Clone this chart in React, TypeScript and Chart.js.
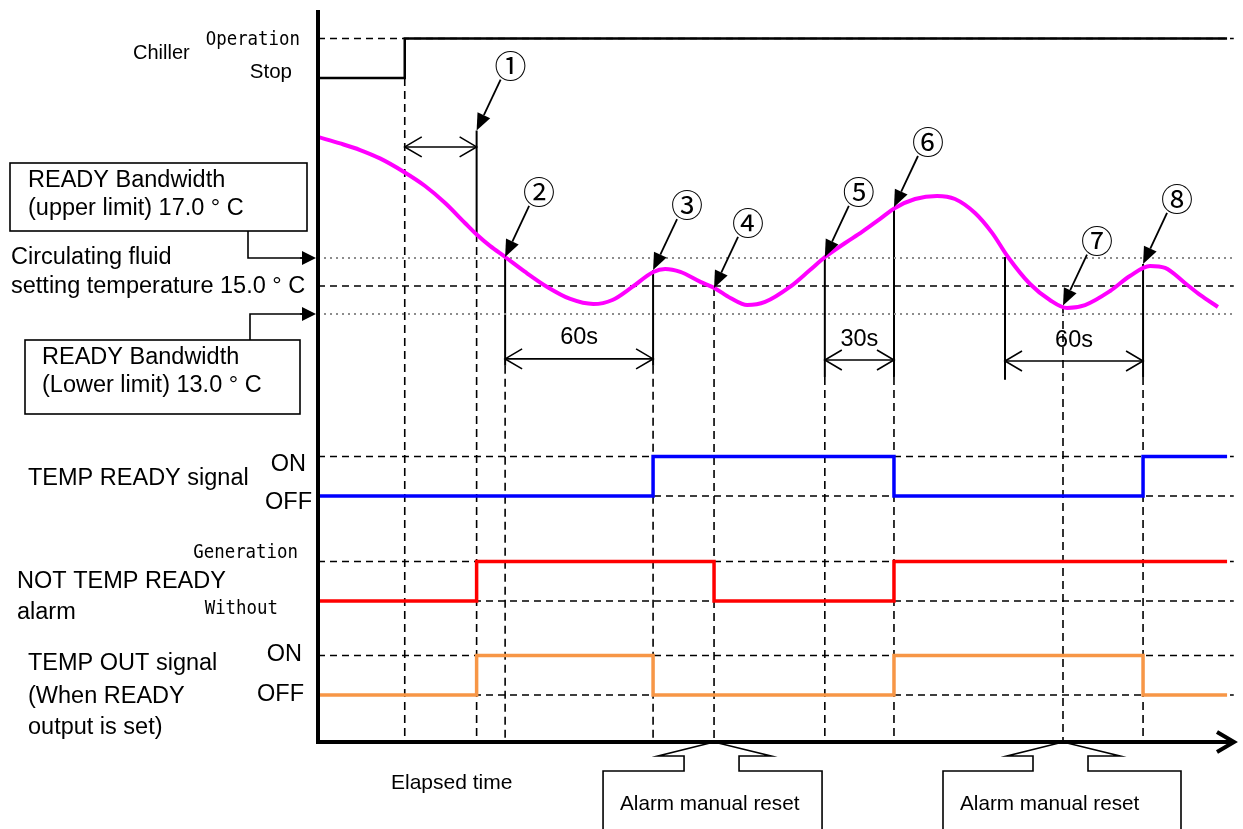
import React, { useEffect, useRef } from "react";
import { Chart, registerables } from "chart.js";

Chart.register(...registerables);

const CANVAS_W = 1243;
const CANVAS_H = 829;

// ---- time axis (schematic seconds) ----
const TIME_MIN = 0;
const TIME_MAX = 370;
const TRACE_END = 366.8;
const GUIDE_END = 369.5;

// ---- circulating fluid temperature (°C) ----
const curveTimes = [0, 8.9, 17.0, 25.0, 34.7, 43.2, 51.3, 59.3, 63.8, 69.4, 75.5, 83.6, 92.5, 101.8, 111.1, 118.8, 126.8, 135.3, 140.1, 146.2, 154.3, 159.9, 166.4, 173.2, 180.4, 190.4, 198.5, 204.6, 212.7, 219.5, 226.8, 232.8, 240.9, 249.8, 257.0, 265.1, 272.0, 278.4, 287.3, 295.3, 302.2, 309.5, 319.6, 327.6, 335.7, 341.8, 349.8, 355.9, 363.1];
const curveTemps = [25.64, 25.18, 24.71, 24.11, 23.14, 22.14, 20.93, 19.5, 18.71, 17.86, 17.07, 16.0, 14.93, 14.07, 13.71, 14.0, 14.93, 16.0, 16.21, 16.0, 15.29, 14.86, 14.14, 13.64, 13.86, 14.93, 16.14, 17.07, 18.07, 18.86, 19.79, 20.57, 21.21, 21.43, 21.21, 20.21, 18.79, 17.07, 15.14, 14.0, 13.43, 13.64, 14.64, 15.71, 16.43, 16.29, 15.21, 14.36, 13.5];
const SET_TEMP = 15.0;
const UPPER_LIMIT = 17.0;
const LOWER_LIMIT = 13.0;
const TEMP_AXIS_MIN = -17.57;
const TEMP_AXIS_MAX = 34.71;

// ---- digital signals (state 0/1, value holds from its time on) ----
const SIG_AXIS_MAX = 18.53;
const CHILLER_BASE = 16.81;
const READY_BASE = 6.23;
const ALARM_BASE = 3.57;
const OUT_BASE = 1.19;

const chillerTimes = [0, 35, TRACE_END];
const chillerStates = [0, 1, 1];
const readyTimes = [0, 135.2, 232.4, 332.9, TRACE_END];
const readyStates = [0, 1, 0, 1, 1];
const alarmTimes = [0, 64, 159.8, 232.4, TRACE_END];
const alarmStates = [0, 1, 0, 1, 1];
const outTimes = [0, 64, 135.2, 232.4, 332.9, TRACE_END];
const outStates = [0, 1, 0, 1, 0, 0];

// ---- event markers ①..⑧ ----
const markerLabels = ["①", "②", "③", "④", "⑤", "⑥", "⑦", "⑧"];
const markerTimes = [64, 75.5, 135.2, 159.8, 204.5, 232.4, 300.6, 332.9];
const markerTemps = [26.1, 17.07, 16.14, 14.86, 17.07, 20.64, 13.6, 16.57];

// ---- vertical guide lines ----
const guideTimes = [35, 64, 75.5, 135.2, 159.8, 204.5, 232.4, 277.2, 300.6, 332.9];
const guideTops = [null, 26.1, 17.07, 16.14, 14.86, 17.07, 20.64, 17.07, 13.43, 16.57];
const guideSolidEnds = [null, 18.71, 9.3, 9.3, null, 8.5, 8.5, 8.3, null, 8.5];
const guideDashed = [true, true, true, true, true, true, true, false, true, true];

// ---- interval dimensions ----
const spanFrom = [35, 75.5, 204.5, 277.2];
const spanTo = [64, 135.2, 232.4, 332.9];
const spanTexts = ["", "60s", "30s", "60s"];
const spanTemps = [24.93, 9.79, 9.71, 9.64];

// ---- alarm manual reset callouts ----
const resetTimes = [159.8, 300.6];
const resetTexts = ["Alarm manual reset", "Alarm manual reset"];

const SANS = '"Liberation Sans", Arial, sans-serif';
const MONO = '"DejaVu Sans Mono", monospace';
const CIRC = '"Noto Sans CJK JP", "DejaVu Sans", sans-serif';

function stepDataset(label: string, times: number[], states: number[], base: number, color: string, width: number) {
  return {
    label,
    data: times.map((t, i) => ({ x: t, y: base + states[i] })),
    yAxisID: "sig",
    borderColor: color,
    borderWidth: width,
    stepped: "before" as const,
    pointRadius: 0,
    fill: false,
    borderJoinStyle: "miter" as const,
  };
}

function line(ctx: CanvasRenderingContext2D, x1: number, y1: number, x2: number, y2: number) {
  ctx.beginPath();
  ctx.moveTo(x1, y1);
  ctx.lineTo(x2, y2);
  ctx.stroke();
}

function poly(ctx: CanvasRenderingContext2D, pts: number[][]) {
  ctx.beginPath();
  ctx.moveTo(pts[0][0], pts[0][1]);
  for (let i = 1; i < pts.length; i++) ctx.lineTo(pts[i][0], pts[i][1]);
  ctx.stroke();
}

function txt(ctx: CanvasRenderingContext2D, s: string, x: number, y: number, size: number, align: CanvasTextAlign = "left", family = SANS, sx = 1) {
  ctx.save();
  ctx.font = `${size}px ${family}`;
  ctx.textAlign = align;
  ctx.textBaseline = "middle";
  ctx.fillStyle = "#000";
  ctx.translate(x, y);
  ctx.scale(sx, 1);
  ctx.fillText(s, 0, 0);
  ctx.restore();
}

function filledArrow(ctx: CanvasRenderingContext2D, x1: number, y1: number, x2: number, y2: number, len: number, half: number) {
  const dx = x2 - x1, dy = y2 - y1;
  const d = Math.hypot(dx, dy);
  const ux = dx / d, uy = dy / d;
  const bx = x2 - ux * len, by = y2 - uy * len;
  line(ctx, x1, y1, bx, by);
  ctx.beginPath();
  ctx.moveTo(x2, y2);
  ctx.lineTo(bx - uy * half, by + ux * half);
  ctx.lineTo(bx + uy * half, by - ux * half);
  ctx.closePath();
  ctx.fill();
}

const diagramPlugin = {
  id: "diagram",
  beforeDatasetsDraw(chart: any) {
    const ctx: CanvasRenderingContext2D = chart.ctx;
    const X = (v: number) => chart.scales.x.getPixelForValue(v);
    const TY = (v: number) => chart.scales.temp.getPixelForValue(v);
    const SY = (v: number) => chart.scales.sig.getPixelForValue(v);
    const bottom = chart.chartArea.bottom;
    ctx.save();
    ctx.strokeStyle = "#000";
    ctx.lineWidth = 1.5;
    ctx.setLineDash([7, 5]);
    const levels = [CHILLER_BASE + 1, READY_BASE + 1, READY_BASE, ALARM_BASE + 1, ALARM_BASE, OUT_BASE + 1, OUT_BASE];
    for (const lv of levels) line(ctx, X(0), SY(lv), X(GUIDE_END), SY(lv));
    line(ctx, X(0), TY(SET_TEMP), X(GUIDE_END), TY(SET_TEMP));

    // vertical guides
    guideTimes.forEach((t, i) => {
      const x = X(t);
      const top = guideTops[i] === null ? SY(CHILLER_BASE) : TY(guideTops[i] as number);
      let dashStart = top;
      if (guideSolidEnds[i] !== null) {
        const se = TY(guideSolidEnds[i] as number);
        ctx.setLineDash([]);
        ctx.lineWidth = 2;
        line(ctx, x, top, x, se);
        dashStart = se;
      }
      if (guideDashed[i]) {
        ctx.setLineDash([8, 5]);
        ctx.lineWidth = 1.6;
        line(ctx, x, dashStart, x, bottom);
      }
    });

    ctx.strokeStyle = "#8c8c8c";
    ctx.lineWidth = 2;
    ctx.setLineDash([2, 4]);
    line(ctx, X(0), TY(UPPER_LIMIT), X(GUIDE_END), TY(UPPER_LIMIT));
    line(ctx, X(0), TY(LOWER_LIMIT), X(GUIDE_END), TY(LOWER_LIMIT));
    ctx.restore();
  },
  afterDatasetsDraw(chart: any) {
    const ctx: CanvasRenderingContext2D = chart.ctx;
    const X = (v: number) => chart.scales.x.getPixelForValue(v);
    const TY = (v: number) => chart.scales.temp.getPixelForValue(v);
    const { left, top, right, bottom } = chart.chartArea;
    ctx.save();
    ctx.strokeStyle = "#000";
    ctx.fillStyle = "#000";
    ctx.setLineDash([]);

    // axes
    ctx.lineWidth = 4;
    ctx.lineCap = "butt";
    ctx.lineJoin = "miter";
    line(ctx, left, top, left, bottom + 2);
    line(ctx, left - 2, bottom, right - 1, bottom);
    poly(ctx, [[right - 18, bottom - 10], [right - 1, bottom], [right - 18, bottom + 10]]);

    // interval dimensions
    ctx.lineWidth = 1.6;
    spanFrom.forEach((a, i) => {
      const x1 = X(a), x2 = X(spanTo[i]), y = TY(spanTemps[i]);
      line(ctx, x1, y, x2, y);
      poly(ctx, [[x1 + 17, y - 10], [x1, y], [x1 + 17, y + 10]]);
      poly(ctx, [[x2 - 17, y - 10], [x2, y], [x2 - 17, y + 10]]);
      if (spanTexts[i]) txt(ctx, spanTexts[i], (x1 + x2) / 2, y - 21, 23.5, "center");
    });

    // event markers
    ctx.lineWidth = 1.8;
    markerTimes.forEach((t, i) => {
      const tx = X(t), ty = TY(markerTemps[i]);
      filledArrow(ctx, tx + 24, ty - 51, tx, ty, 17, 7);
      txt(ctx, markerLabels[i], tx + 34, ty - 65, 32, "center", CIRC);
    });

    // left-side labels
    txt(ctx, "Chiller", 133, 53, 20);
    txt(ctx, "Operation", 300, 40, 20, "right", MONO, 0.87);
    txt(ctx, "Stop", 292, 72, 20.5, "right");

    ctx.lineWidth = 1.6;
    ctx.strokeRect(10, 163, 297, 68);
    txt(ctx, "READY Bandwidth", 28, 181, 23.5);
    txt(ctx, "(upper limit) 17.0 ° C", 28, 209, 23.5);
    const yU = TY(UPPER_LIMIT);
    poly(ctx, [[248, 231], [248, yU], [303, yU]]);
    filledArrow(ctx, 300, yU, left - 2, yU, 14, 7);

    txt(ctx, "Circulating fluid", 11, 258, 23.5);
    txt(ctx, "setting temperature 15.0 ° C", 11, 287, 23.5);

    const yL = TY(LOWER_LIMIT);
    poly(ctx, [[250, 340], [250, yL], [303, yL]]);
    filledArrow(ctx, 300, yL, left - 2, yL, 14, 7);
    ctx.strokeRect(25, 340, 275, 74);
    txt(ctx, "READY Bandwidth", 42, 358, 23.5);
    txt(ctx, "(Lower limit) 13.0 ° C", 42, 386, 23.5);

    txt(ctx, "TEMP READY signal", 28, 479, 23.5);
    txt(ctx, "ON", 306, 465, 23.5, "right");
    txt(ctx, "OFF", 312, 503, 23.5, "right");

    txt(ctx, "Generation", 298, 553, 20, "right", MONO, 0.87);
    txt(ctx, "NOT TEMP READY", 17, 582, 23.5);
    txt(ctx, "alarm", 17, 613, 23.5);
    txt(ctx, "Without", 278, 609, 20, "right", MONO, 0.87);

    txt(ctx, "ON", 302, 655, 23.5, "right");
    txt(ctx, "TEMP OUT signal", 28, 664, 23.5);
    txt(ctx, "(When READY", 28, 697, 23.5);
    txt(ctx, "OFF", 304, 695, 23.5, "right");
    txt(ctx, "output is set)", 28, 728, 23.5);

    txt(ctx, "Elapsed time", 391, 783, 21);

    // alarm manual reset callouts
    const boxL = [-111, -120];
    const boxR = [108, 118];
    ctx.lineWidth = 1.6;
    resetTimes.forEach((t, i) => {
      const tx = X(t);
      const L = tx + boxL[i], R = tx + boxR[i];
      poly(ctx, [
        [L, CANVAS_H + 2], [L, 771], [tx - 30, 771], [tx - 30, 756], [tx - 56, 756], [tx, bottom],
        [tx + 57, 756], [tx + 25, 756], [tx + 25, 771], [R, 771], [R, CANVAS_H + 2],
      ]);
      txt(ctx, resetTexts[i], L + 17, 804, 20.7);
    });
    ctx.restore();
  },
};

export default function App() {
  const ref = useRef<HTMLCanvasElement>(null);
  useEffect(() => {
    const canvas = ref.current!;
    const chart = new Chart(canvas, {
      type: "line",
      data: {
        datasets: [
          {
            label: "Circulating fluid temperature",
            data: curveTimes.map((t, i) => ({ x: t, y: curveTemps[i] })),
            yAxisID: "temp",
            borderColor: "#FF00FF",
            borderWidth: 4,
            cubicInterpolationMode: "monotone",
            pointRadius: 0,
            fill: false,
          },
          stepDataset("Chiller", chillerTimes, chillerStates, CHILLER_BASE, "#000000", 2.5),
          stepDataset("TEMP READY signal", readyTimes, readyStates, READY_BASE, "#0000FF", 3.5),
          stepDataset("NOT TEMP READY alarm", alarmTimes, alarmStates, ALARM_BASE, "#FF0000", 3.5),
          stepDataset("TEMP OUT signal", outTimes, outStates, OUT_BASE, "#F79646", 3.5),
        ] as any,
      },
      options: {
        animation: false,
        responsive: false,
        maintainAspectRatio: false,
        devicePixelRatio: 1,
        layout: { padding: { left: 318, right: 8, top: 10, bottom: 87 } },
        scales: {
          x: { type: "linear", min: TIME_MIN, max: TIME_MAX, display: false },
          temp: { type: "linear", min: TEMP_AXIS_MIN, max: TEMP_AXIS_MAX, display: false },
          sig: { type: "linear", min: 0, max: SIG_AXIS_MAX, display: false },
        },
        plugins: { legend: { display: false }, tooltip: { enabled: false } },
        events: [],
      } as any,
      plugins: [diagramPlugin],
    });
    return () => chart.destroy();
  }, []);
  return (
    <div style={{ position: "absolute", left: 0, top: 0, width: CANVAS_W, height: CANVAS_H, background: "#fff" }}>
      <canvas ref={ref} width={CANVAS_W} height={CANVAS_H} style={{ display: "block", width: CANVAS_W, height: CANVAS_H }} />
    </div>
  );
}
